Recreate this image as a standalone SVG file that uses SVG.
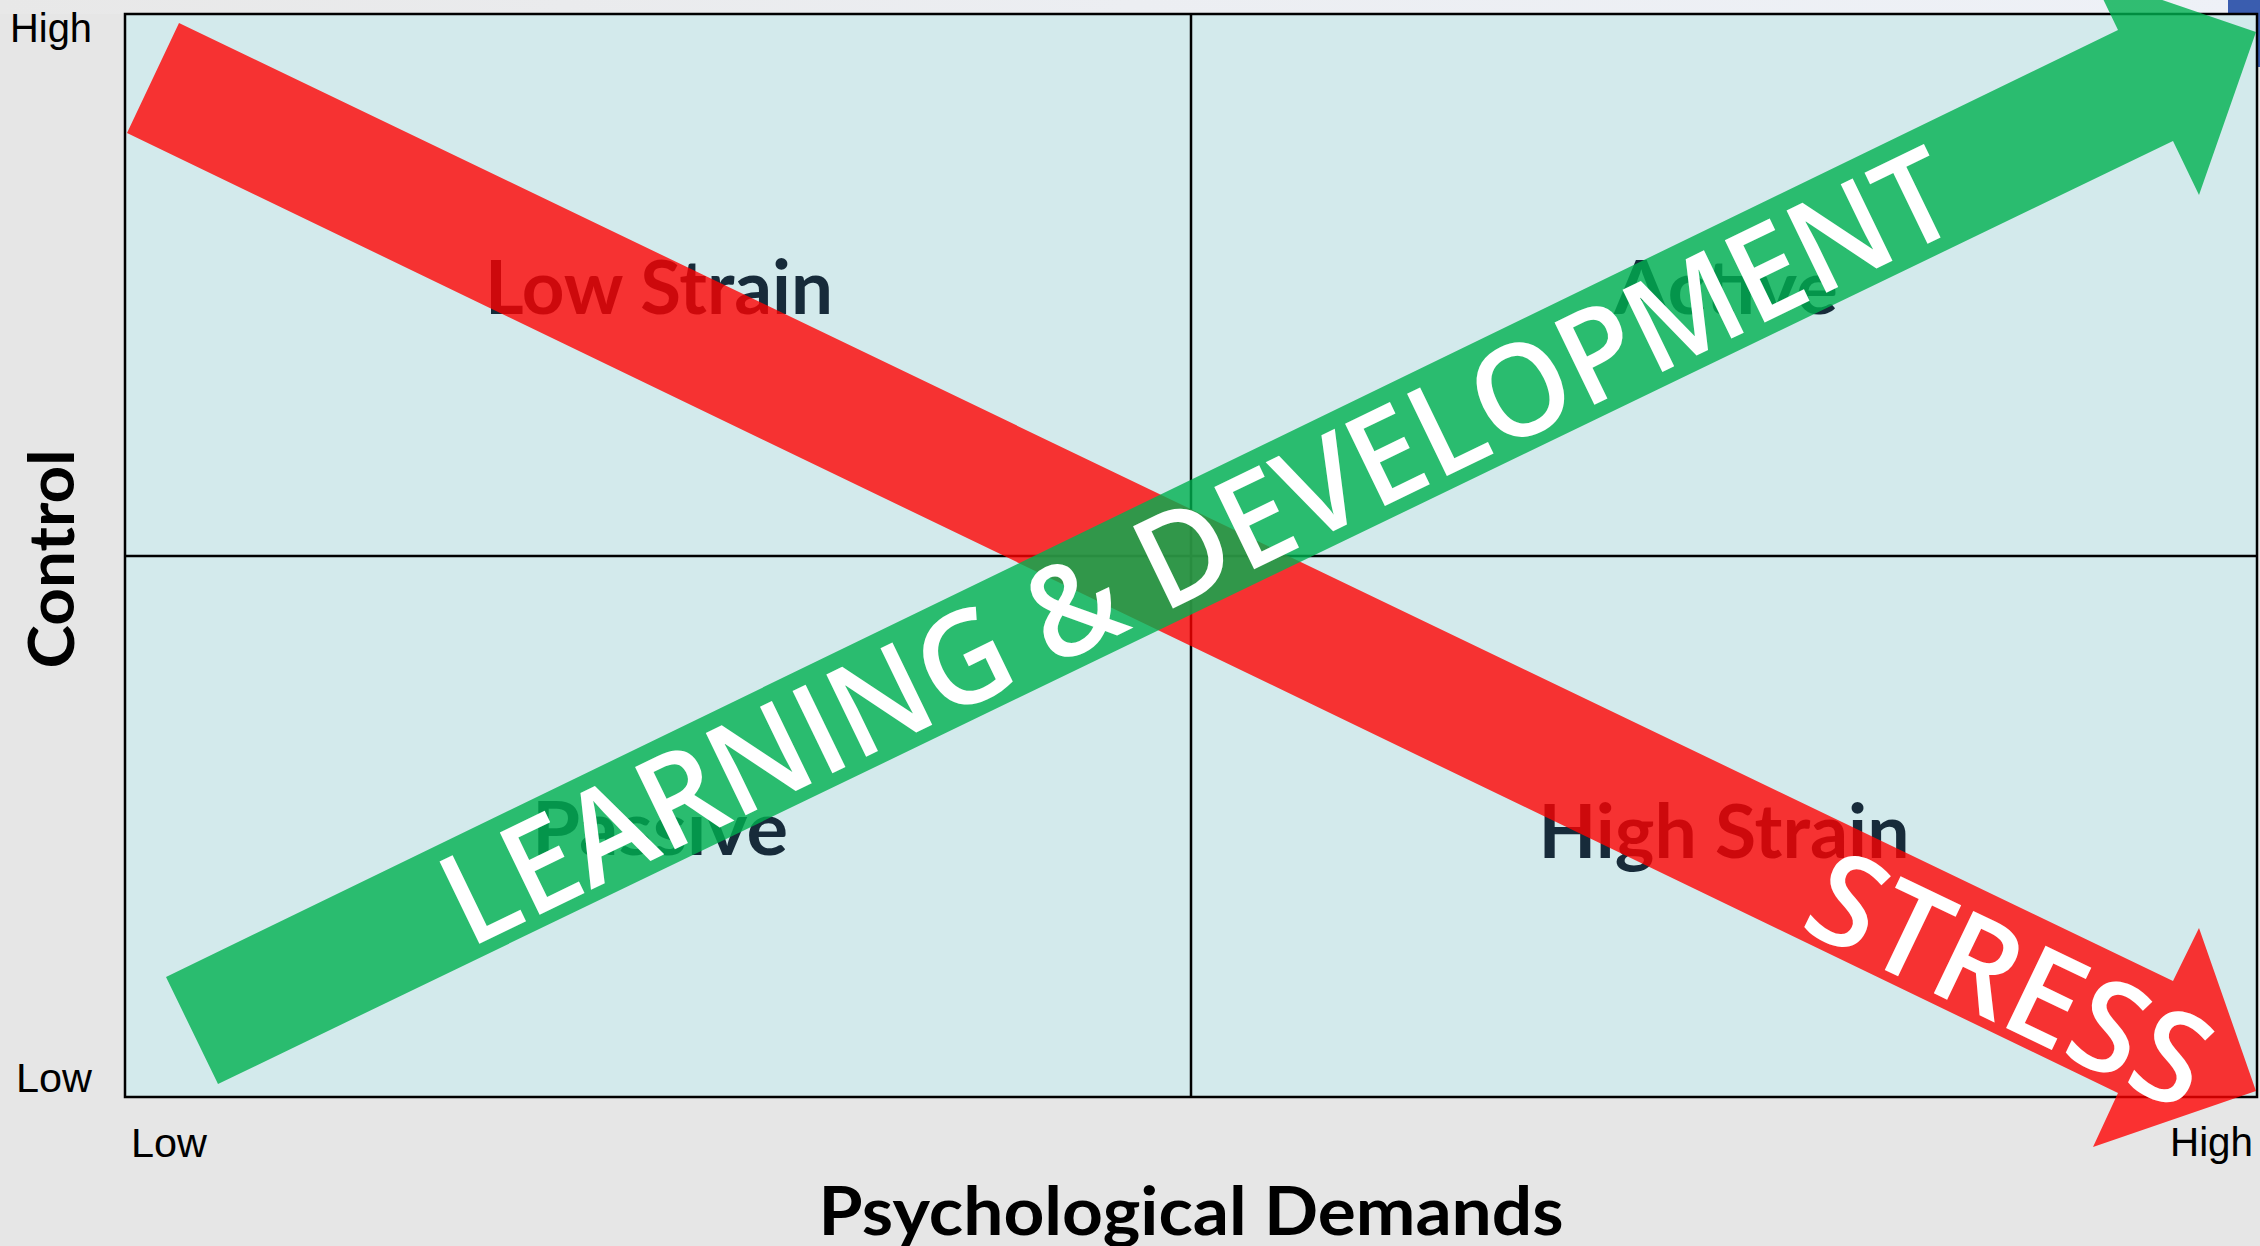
<svg xmlns="http://www.w3.org/2000/svg" width="2260" height="1246" viewBox="0 0 2260 1246">
  <style>
    .tick { font-family: "Liberation Sans", Arial, sans-serif; font-size: 40px; fill: #000000; }
    .axis-title { font-family: Lato, "Liberation Sans", sans-serif; font-weight: 700; fill: #000000; }
    .quad { font-family: Lato, "Liberation Sans", sans-serif; font-weight: 700; font-size: 74px; fill: #172B3A; text-anchor: middle; }
    .band-label { font-family: "Open Sans", "Liberation Sans", sans-serif; font-weight: 600; fill: #FFFFFF; }
    .grid { stroke: #000000; stroke-width: 2.5; fill: none; }
  </style>
  <defs>
    <linearGradient id="topStrip" x1="0" y1="0" x2="1" y2="0">
      <stop offset="0" stop-color="#E8E8E8"/>
      <stop offset="0.5" stop-color="#ECEEF2"/>
      <stop offset="1" stop-color="#EEF1F7"/>
    </linearGradient>
  </defs>

  <!-- page background -->
  <rect x="0" y="0" width="2260" height="1246" fill="#E6E6E6"/>
  <rect x="0" y="0" width="2260" height="14" fill="url(#topStrip)"/>
  <rect x="2228" y="0" width="32" height="14" fill="#3A5DAF"/>
  <rect x="2257" y="0" width="3" height="67" fill="#3A5DAF"/>

  <!-- chart area and quadrant grid -->
  <g id="chart-frame">
    <rect x="125" y="14" width="2132" height="1083" fill="#D3EAEC"/>
    <line class="grid" x1="1191" y1="14" x2="1191" y2="1097"/>
    <line class="grid" x1="125" y1="556" x2="2257" y2="556"/>
    <rect class="grid" x="125" y="14" width="2132" height="1083"/>
  </g>

  <!-- axis labels -->
  <g id="axis-control">
    <text class="axis-title" font-size="64" text-anchor="middle" textLength="219" lengthAdjust="spacingAndGlyphs" transform="translate(74,559) rotate(-90)">Control</text>
    <text class="tick" x="10" y="42" textLength="82" lengthAdjust="spacingAndGlyphs">High</text>
    <text class="tick" x="16" y="1092" textLength="76" lengthAdjust="spacingAndGlyphs">Low</text>
  </g>
  <g id="axis-demands">
    <text class="axis-title" font-size="66" x="1191" y="1235" text-anchor="middle" textLength="745" lengthAdjust="spacingAndGlyphs">Psychological Demands</text>
    <text class="tick" x="131" y="1157" textLength="76" lengthAdjust="spacingAndGlyphs">Low</text>
    <text class="tick" x="2170" y="1156" textLength="83" lengthAdjust="spacingAndGlyphs">High</text>
  </g>

  <!-- quadrants -->
  <g id="quadrant-low-strain">
    <text class="quad" x="659" y="314" textLength="348" lengthAdjust="spacingAndGlyphs">Low Strain</text>
  </g>
  <g id="quadrant-active">
    <text class="quad" x="1726" y="314" textLength="224" lengthAdjust="spacingAndGlyphs">Active</text>
  </g>
  <g id="quadrant-passive">
    <text class="quad" x="660" y="855" textLength="256" lengthAdjust="spacingAndGlyphs">Passive</text>
  </g>
  <g id="quadrant-high-strain">
    <text class="quad" x="1724" y="858" textLength="371" lengthAdjust="spacingAndGlyphs">High Strain</text>
  </g>

  <!-- trend arrows -->
  <g id="connectors">
    <g id="arrow-stress">
      <polygon points="179,23 2173,981 2199,928 2256,1091 2093,1147 2118,1093 127,133" fill="#FF0000" fill-opacity="0.79"/>
      <text class="band-label" font-size="128" x="1850" y="56" textLength="428" lengthAdjust="spacingAndGlyphs" transform="translate(153,78) rotate(25.6)">STRESS</text>
    </g>
    <g id="arrow-learning">
      <polygon points="166,977 2118,30 2092,-24 2256,32 2199,195 2173,141 218,1084" fill="#00B050" fill-opacity="0.8"/>
      <text class="band-label" font-size="128" x="285" y="47" textLength="1662" lengthAdjust="spacingAndGlyphs" transform="translate(192,1030.5) rotate(-25.8)">LEARNING &amp; DEVELOPMENT</text>
    </g>
  </g>
</svg>
